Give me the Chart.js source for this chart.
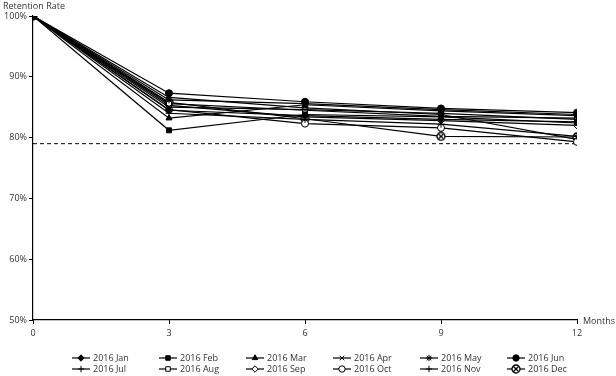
<!DOCTYPE html>
<html>
<head>
<meta charset="utf-8">
<script src="https://cdn.jsdelivr.net/npm/chart.js@4/dist/chart.umd.min.js"></script>
<style>
  html, body { margin: 0; padding: 0; background: #fff; }
  #wrap { width: 616px; height: 376px; }
</style>
</head>
<body>
<div id="wrap"><canvas id="retention" width="616" height="376"></canvas></div>
<script>
// months since start and the cohorts
const months = [0, 3, 6, 9, 12];
const cohorts = ['2016 Jan', '2016 Feb', '2016 Mar', '2016 Apr', '2016 May', '2016 Jun',
                 '2016 Jul', '2016 Aug', '2016 Sep', '2016 Oct', '2016 Nov', '2016 Dec'];

// retention (%) per cohort
const jan = [100, 84.5, 83.6, 83.0, 82.6];
const feb = [100, 81.2, 83.8, 83.4, 82.4];
const mar = [100, 83.2, 85.4, 84.4, 83.6];
const apr = [100, 85.0, 84.6, 84.0, 83.0];
const may = [100, 86.2, 85.6, 84.6, 83.8];
const jun = [100, 87.3, 85.9, 84.8, 84.1];
const jul = [100, 84.0, 83.0, 82.2, 80.2];
const aug = [100, 85.6, 84.5, 83.5, 83.2];
const sep = [100, 85.3, 83.4, 82.8, 82.0];
const oct = [100, 84.6, 82.3, 81.6, 79.3];
const nov = [100, 86.6, 84.9, 83.8, 79.7];
const dec = [100, 85.8, 83.1, 80.2, 80.1];
const target = 79;

const yTicks = [50, 60, 70, 80, 90, 100];
const xTicks = [0, 3, 6, 9, 12];

// circle with an x inside, for Dec
function circleX() {
  const c = document.createElement('canvas');
  c.width = 10; c.height = 10;
  const g = c.getContext('2d');
  g.fillStyle = '#fff';
  g.strokeStyle = '#000';
  g.lineWidth = 1.3;
  g.beginPath(); g.arc(5, 5, 4, 0, Math.PI * 2); g.fill(); g.stroke();
  g.beginPath();
  g.moveTo(2.5, 2.5); g.lineTo(7.5, 7.5);
  g.moveTo(7.5, 2.5); g.lineTo(2.5, 7.5);
  g.stroke();
  return c;
}

const series = [jan, feb, mar, apr, may, jun, jul, aug, sep, oct, nov, dec];
const styles = [
  ['rectRot', '#000'], ['rect', '#000'], ['triangle', '#000'], ['crossRot', '#000'],
  ['star', '#000'], ['circle', '#000'], ['cross', '#000'], ['rect', '#fff'],
  ['rectRot', '#fff'], ['circle', '#fff'], ['cross', '#000'], [circleX(), '#fff']
];

const datasets = series.map((vals, i) => ({
  label: cohorts[i],
  data: vals.map((v, j) => ({ x: months[j], y: v })),
  borderColor: '#000',
  borderWidth: 1.2,
  pointStyle: styles[i][0],
  pointBackgroundColor: styles[i][1],
  pointBorderColor: '#000',
  pointBorderWidth: 1,
  pointRadius: 3.5,
  tension: 0
}));

datasets.push({
  label: 'target',
  data: [{ x: months[0], y: target }, { x: months[months.length - 1], y: target }],
  borderColor: '#000',
  borderWidth: 1,
  borderDash: [4, 3],
  pointRadius: 0
});

const font = "'Open Sans', 'Liberation Sans', sans-serif";

// titles and the two-row legend
const extras = {
  id: 'extras',
  afterDraw(chart) {
    const ctx = chart.ctx;
    const area = chart.chartArea;
    ctx.save();
    ctx.fillStyle = '#333';
    ctx.font = '9px ' + font;
    ctx.textBaseline = 'middle';
    ctx.textAlign = 'left';
    ctx.fillText('Retention Rate', 3, 6);
    ctx.fillText('Months', area.right + 6, area.bottom + 1);

    for (let i = 0; i < cohorts.length; i++) {
      const col = i % 6, row = Math.floor(i / 6);
      const x0 = 72 + col * 87;
      const y0 = 358 + row * 11;
      ctx.strokeStyle = '#000';
      ctx.lineWidth = 1.2;
      ctx.setLineDash([]);
      ctx.beginPath(); ctx.moveTo(x0, y0); ctx.lineTo(x0 + 18, y0); ctx.stroke();
      ctx.fillStyle = styles[i][1];
      ctx.strokeStyle = '#000';
      ctx.lineWidth = 1;
      Chart.helpers.drawPoint(ctx, { pointStyle: styles[i][0], radius: 3.2, rotation: 0, borderWidth: 1 }, x0 + 9, y0);
      ctx.fillStyle = '#333';
      ctx.fillText(cohorts[i], x0 + 21, y0 + 0.5);
    }
    ctx.restore();
  }
};

new Chart(document.getElementById('retention'), {
  type: 'line',
  data: { datasets },
  options: {
    responsive: false,
    animation: false,
    layout: { padding: { top: 16, right: 39, left: 0, bottom: 0 } },
    plugins: { legend: { display: false }, tooltip: { enabled: false } },
    scales: {
      x: {
        type: 'linear',
        min: 0, max: 12,
        afterBuildTicks(s) { s.ticks = xTicks.map(v => ({ value: v })); },
        afterFit(s) { s.height = 56; },
        border: { color: '#000', width: 1.2 },
        grid: { drawOnChartArea: false, drawTicks: true, tickLength: 4, color: '#000' },
        ticks: { color: '#333', font: { size: 9, family: font }, padding: 4, maxRotation: 0 }
      },
      y: {
        min: 50, max: 100,
        afterBuildTicks(s) { s.ticks = yTicks.map(v => ({ value: v })); },
        afterFit(s) { s.width = 33; },
        border: { color: '#000', width: 1.2 },
        grid: { drawOnChartArea: false, drawTicks: true, tickLength: 4, color: '#000' },
        ticks: { color: '#333', font: { size: 9, family: font }, padding: 2, callback: v => v + '%' }
      }
    }
  },
  plugins: [extras]
});
</script>
</body>
</html>
